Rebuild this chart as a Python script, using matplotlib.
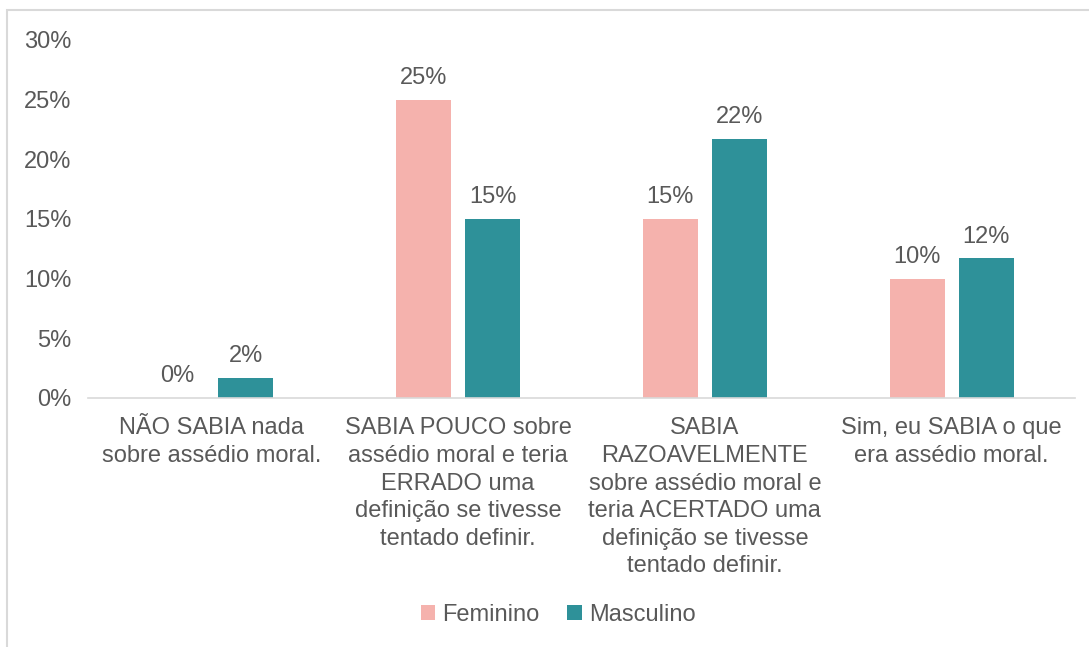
import numpy as np
import matplotlib.pyplot as plt
from matplotlib.patches import Rectangle

plt.rcParams['font.family'] = ['Liberation Sans', 'DejaVu Sans']

categories = ['NÃO SABIA nada\nsobre assédio moral.',
              'SABIA POUCO sobre\nassédio moral e teria\nERRADO uma\ndefinição se tivesse\ntentado definir.',
              'SABIA\nRAZOAVELMENTE\nsobre assédio moral e\nteria ACERTADO uma\ndefinição se tivesse\ntentado definir.',
              'Sim, eu SABIA o que\nera assédio moral.']
feminino = [0.0, 25.0, 15.0, 10.0]
masculino = [1.7, 15.0, 21.7, 11.7]
fem_labels = ['0%', '25%', '15%', '10%']
masc_labels = ['2%', '15%', '22%', '12%']
yticks = [0, 5, 10, 15, 20, 25, 30]

c_fem = '#F5B2AD'
c_masc = '#2E9199'
txt = '#595959'
fs = 17

fig = plt.figure(figsize=(10.89, 6.47), dpi=100)
fig.patches.append(Rectangle((7/1089, -0.1), 1.2, 1 - 10/647 + 0.1, transform=fig.transFigure,
                             fill=False, edgecolor='#D9D9D9', linewidth=1.5))
ax = fig.add_axes([88/1089, 1 - 398/647, (1075 - 88)/1089, (398 - 40)/647])

x = np.arange(len(categories))
w = 0.223
off = 0.14
b1 = ax.bar(x - off, feminino, w, color=c_fem, label='Feminino')
b2 = ax.bar(x + off, masculino, w, color=c_masc, label='Masculino')

for xi, v, lab in zip(x - off, feminino, fem_labels):
    ax.text(xi, v + 0.9, lab, ha='center', va='bottom', fontsize=fs, color=txt)
for xi, v, lab in zip(x + off, masculino, masc_labels):
    ax.text(xi, v + 0.9, lab, ha='center', va='bottom', fontsize=fs, color=txt)

ax.set_xlim(-0.5, 3.5)
ax.set_ylim(0, 30)
ax.set_yticks(yticks)
ax.set_yticklabels([f'{t}%' for t in yticks], fontsize=fs, color=txt)
ax.set_xticks(x)
ax.set_xticklabels(categories, fontsize=fs, color=txt, linespacing=1.33, va='top')
ax.tick_params(axis='x', length=0, pad=14)
ax.tick_params(axis='y', length=0, pad=12)
for s in ['top', 'right', 'left']:
    ax.spines[s].set_visible(False)
ax.spines['bottom'].set_color('#D9D9D9')
ax.spines['bottom'].set_linewidth(1.2)

leg = fig.legend(handles=[b1, b2], loc='center', bbox_to_anchor=(558/1089, 1 - 615/647),
                 ncol=2, frameon=False, fontsize=fs, handlelength=0.6, handleheight=0.6,
                 handletextpad=0.3, columnspacing=1.2)
for t in leg.get_texts():
    t.set_color(txt)

fig.savefig('out.png', dpi=100)
